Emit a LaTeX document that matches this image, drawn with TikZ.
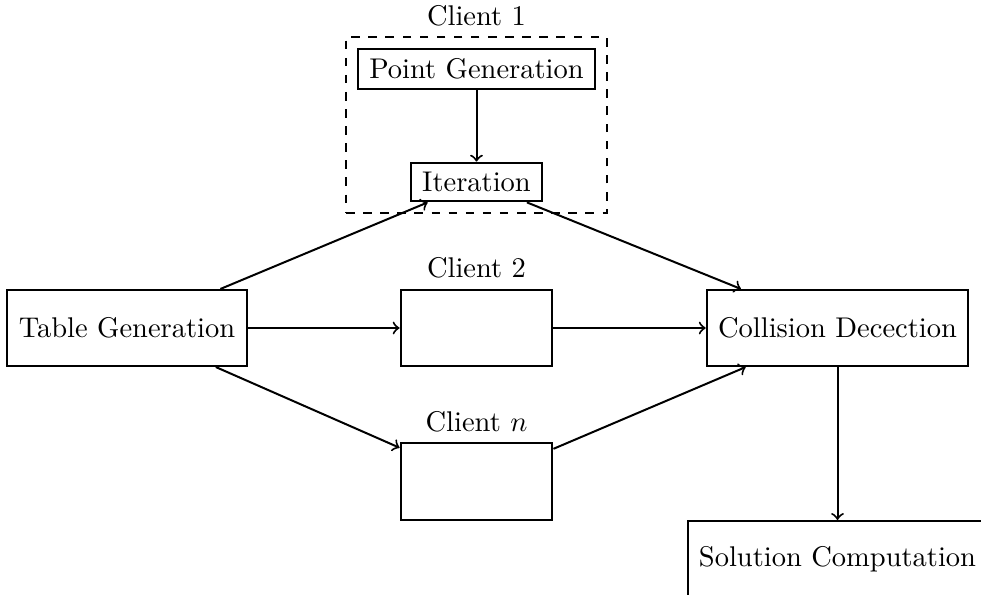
\documentclass[tikz,border=0pt]{standalone}
\usetikzlibrary{fit}
\begin{document}
\begin{tikzpicture}[x=0.3509pt,y=-0.3509pt,
  every path/.style={line width=0.7pt},
  box/.style={draw,line width=0.7pt,inner xsep=4pt,inner ysep=3.33pt},
  bigbox/.style={box,minimum height=26.7pt},
  emptybox/.style={bigbox,minimum width=53.3pt},
  arr/.style={->,line width=0.7pt},
  lab/.style={inner sep=3.33pt}]
\useasboundingbox (0,0) rectangle (981,594);
\node[bigbox] (tg) at (127,328) {Table Generation};
\node[emptybox,label={[lab]above:Client 2}] (c2) at (476.5,328) {};
\node[emptybox,label={[lab]above:Client $n$}] (cn) at (476.5,481.5) {};
\node[bigbox] (cd) at (837.5,328) {Collision Decection};
\node[bigbox] (sc) at (837.5,559) {Solution Computation};
\node[box] (pg) at (476.5,69) {Point Generation};
\node[box] (it) at (476.5,182) {Iteration};
\node[draw,dashed,line width=0.7pt,inner sep=3.8pt,fit=(pg)(it),label={[lab]above:Client 1}] (c1) {};
\draw[arr] (pg) -- (it);
\draw[arr] (tg) -- (it);
\draw[arr] (it) -- (cd);
\draw[arr] (tg) -- (c2);
\draw[arr] (c2) -- (cd);
\draw[arr] (tg) -- (cn);
\draw[arr] (cn) -- (cd);
\draw[arr] (cd) -- (sc);
\end{tikzpicture}
\end{document}
